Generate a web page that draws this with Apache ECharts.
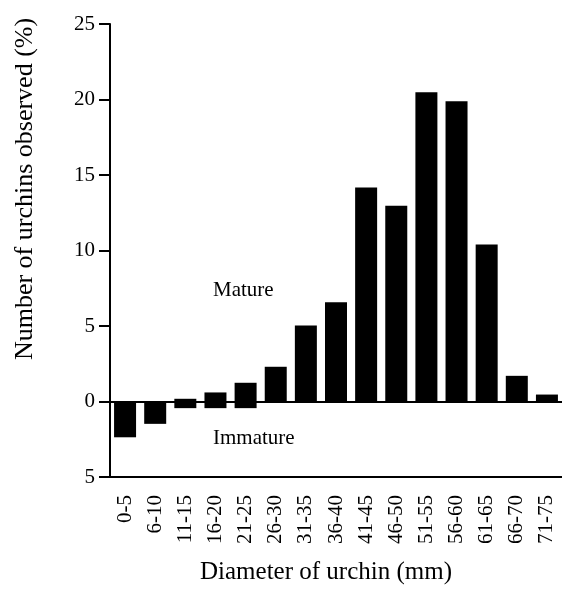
<!DOCTYPE html>
<html>
<head>
<meta charset="utf-8">
<script src="https://cdn.jsdelivr.net/npm/echarts@6/dist/echarts.min.js"></script>
<style>
  html, body { margin: 0; padding: 0; background: #fff; }
  #chart { width: 562px; height: 595px; }
</style>
</head>
<body>
<div id="chart"></div>
<script>
// size classes (mm)
var categories = ['0-5', '6-10', '11-15', '16-20', '21-25', '26-30', '31-35', '36-40',
  '41-45', '46-50', '51-55', '56-60', '61-65', '66-70', '71-75'];
// % observed, mature above zero
var mature = [0, 0, 0.18, 0.6, 1.24, 2.3, 5.04, 6.57, 14.18, 12.96, 20.48, 19.89, 10.4, 1.7, 0.46];
// % observed, immature drawn below zero
var immature = [-2.37, -1.48, -0.44, -0.44, -0.44, 0, 0, 0, 0, 0, 0, 0, 0, 0, 0];
var yTicks = [-5, 0, 5, 10, 15, 20, 25];

var font = '"Liberation Serif", "DejaVu Serif", serif';
var chart = echarts.init(document.getElementById('chart'));

chart.setOption({
  animation: false,
  backgroundColor: '#fff',
  textStyle: { fontFamily: font, color: '#000' },
  grid: { left: 110, right: 0, top: 24, bottom: 118 },
  xAxis: {
    type: 'category',
    data: categories,
    axisLine: { onZero: false, lineStyle: { color: '#000', width: 2 } },
    axisTick: { alignWithLabel: true, length: 11, lineStyle: { color: '#000', width: 2 } },
    axisLabel: {
      rotate: 90, margin: 18, fontSize: 21, fontFamily: font, color: '#000', interval: 0
    }
  },
  yAxis: {
    type: 'value',
    min: yTicks[0],
    max: yTicks[yTicks.length - 1],
    interval: 5,
    axisLine: { show: true, lineStyle: { color: '#000', width: 2 } },
    axisTick: { show: true, length: 11, lineStyle: { color: '#000', width: 2 } },
    splitLine: { show: false },
    axisLabel: {
      margin: 15, fontSize: 21, fontFamily: font, color: '#000',
      formatter: function (v) { return Math.abs(v); }
    }
  },
  series: [
    {
      name: 'Mature',
      type: 'bar',
      data: mature,
      barWidth: 22,
      barGap: '-100%',
      itemStyle: { color: '#000' },
      markLine: {
        silent: true,
        symbol: 'none',
        label: { show: false },
        lineStyle: { color: '#000', width: 2, type: 'solid' },
        data: [{ yAxis: 0 }]
      }
    },
    {
      name: 'Immature',
      type: 'bar',
      data: immature,
      barWidth: 22,
      itemStyle: { color: '#000' }
    }
  ],
  graphic: [
    {
      type: 'text', left: 213, top: 280,
      style: { text: 'Mature', fontSize: 21, fontFamily: font, fill: '#000' }
    },
    {
      type: 'text', left: 213, top: 428,
      style: { text: 'Immature', fontSize: 21, fontFamily: font, fill: '#000' }
    },
    {
      type: 'text', x: 25, y: 189, rotation: Math.PI / 2,
      style: {
        text: 'Number of urchins observed (%)', fontSize: 26, fontFamily: font,
        fill: '#000', align: 'center', verticalAlign: 'middle'
      }
    },
    {
      type: 'text', x: 326, y: 572,
      style: {
        text: 'Diameter of urchin (mm)', fontSize: 25, fontFamily: font,
        fill: '#000', align: 'center', verticalAlign: 'middle'
      }
    }
  ]
});
</script>
</body>
</html>
